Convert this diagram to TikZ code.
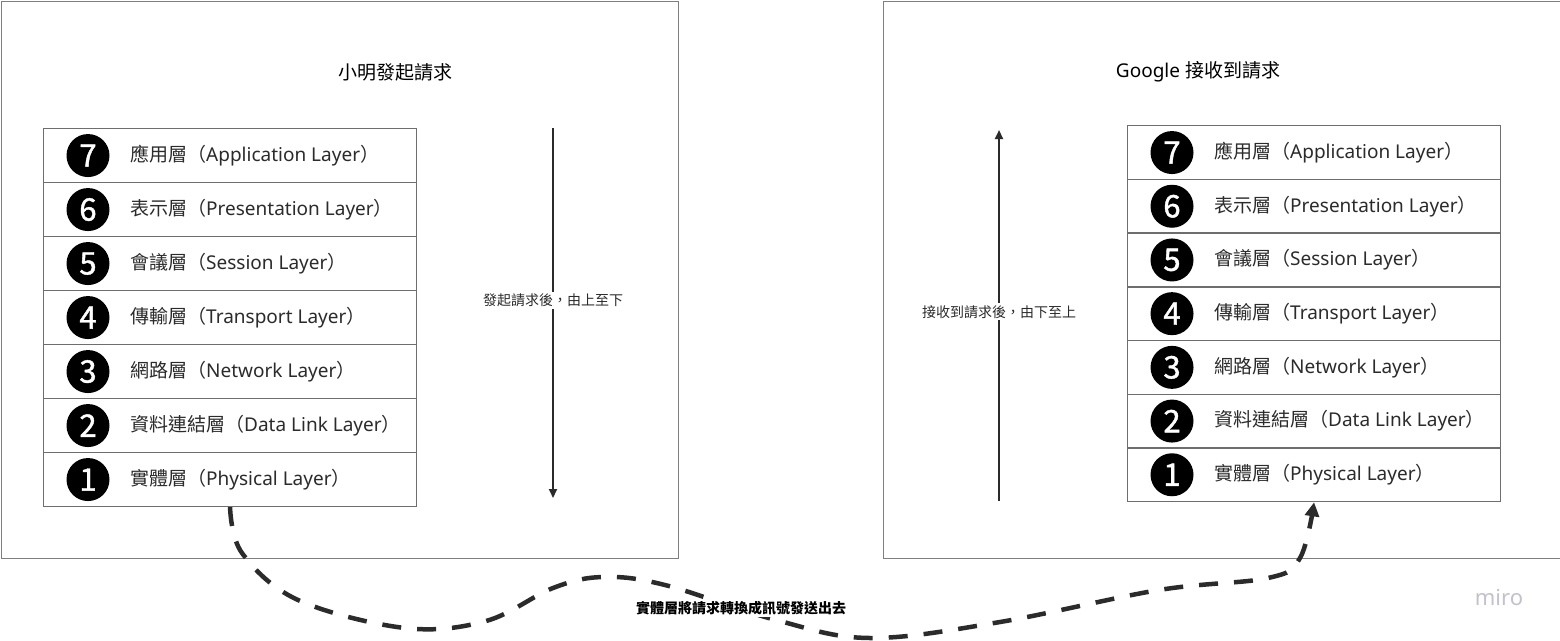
\documentclass[tikz,border=0pt]{standalone}
\usepackage{fontspec}
\setmainfont{Noto Sans}
\newfontfamily\cjk{Noto Sans CJK TC}
\newfontfamily\digitfont{Noto Sans CJK TC}[FakeBold=1.3]
\usetikzlibrary{arrows.meta}
\definecolor{framegray}{HTML}{7F7F7F}
\definecolor{linegray}{HTML}{6E6E6E}
\definecolor{ink}{HTML}{2B2B2B}
\definecolor{mirogray}{HTML}{C2C2CC}
\tikzset{
  frame/.style={draw=framegray, line width=1.3pt},
  rowbox/.style={draw=linegray, line width=1.1pt, minimum width=373pt, minimum height=54pt, inner sep=0pt, anchor=north west},
  numdot/.style={circle, fill=black, minimum size=43pt, inner sep=0pt, text=white, font=\digitfont\fontsize{31}{31}\selectfont},
  rowtext/.style={anchor=west, inner sep=0pt, text=ink, font=\fontsize{19}{19}\selectfont},
  title/.style={inner sep=0pt, text=black, font=\fontsize{19}{19}\selectfont},
  flowline/.style={draw=ink, line width=2pt, -{Triangle[length=9pt,width=8pt]}},
  flowlabel/.style={fill=white, inner sep=2pt, text=ink, font=\cjk\fontsize{14}{14}\selectfont},
  signal/.style={draw=ink, line width=4.5pt, dash pattern=on 19pt off 16pt, -{Triangle[length=14pt,width=14pt]}},
  signallabel/.style={fill=white, inner sep=2pt, text=black, font=\cjk\bfseries\fontsize{14}{14}\selectfont},
}
\begin{document}
\begin{tikzpicture}[x=1pt,y=-1pt]
\useasboundingbox (0,0) rectangle (1560,640);
\fill[white] (0,0) rectangle (1560,640);
% frames
\node[frame, minimum width=677pt, minimum height=557pt, anchor=north west, inner sep=0pt] (leftframe) at (0.7,0.7) {};
\node[frame, minimum width=677pt, minimum height=557pt, anchor=north west, inner sep=0pt] (rightframe) at (882.5,0.7) {};
% titles
\node[title] (lefttitle) at (395,72) {\cjk 小明發起請求};
\node[title] (righttitle) at (1198,72) {Google {\cjk 接收到請求}};
% stacks
\foreach \n/\cj/\en [count=\i] in {7/應用層/Application Layer,6/表示層/Presentation Layer,5/會議層/Session Layer,4/傳輸層/Transport Layer,3/網路層/Network Layer,2/資料連結層/Data Link Layer,1/實體層/Physical Layer}{
  \node[rowbox] (L\n) at (43,{128+(\i-1)*54}) {};
  \node[numdot] (Lc\n) at ([xshift=45pt]L\n.west) {\n};
  \node[rowtext] (Lt\n) at ([xshift=87pt]L\n.west) {{\cjk \cj（}\en{\cjk ）}};
  \node[rowbox] (R\n) at (1127,{125+(\i-1)*53.7}) {};
  \node[numdot] (Rc\n) at ([xshift=45pt]R\n.west) {\n};
  \node[rowtext] (Rt\n) at ([xshift=87pt]R\n.west) {{\cjk \cj（}\en{\cjk ）}};
}
% direction arrows
\coordinate (ldtop) at (553,128);
\coordinate (ldbot) at (553,498);
\draw[flowline] (ldtop) -- (ldbot) node[flowlabel, pos=0.465] (ldlabel) {發起請求後，由上至下};
\coordinate (rubot) at (999,501);
\coordinate (rutop) at (999,130);
\draw[flowline] (rubot) -- (rutop) node[flowlabel, pos=0.51] (rulabel) {接收到請求後，由下至上};
% signal curve
\draw[signal] plot[smooth, tension=0.6] coordinates {(L1.south) (242,553) (298,600) (405,628) (486,621) (553,588) (603,577) (665,585) (776,620) (870,638) (1000,622) (1159,590) (1268,578) (1300,558) (R1.south)};
\node[signallabel] (siglabel) at (741,608) {實體層將請求轉換成訊號發送出去};
% watermark
\node[inner sep=0pt, text=mirogray, font=\fontsize{22}{22}\selectfont] (miro) at (1499,597) {miro};
\end{tikzpicture}
\end{document}
